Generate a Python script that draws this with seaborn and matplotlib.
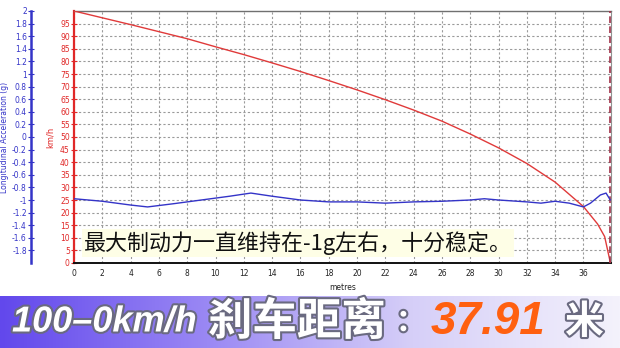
import numpy as np
import pandas as pd
import matplotlib
matplotlib.use("Agg")
import matplotlib.pyplot as plt
import matplotlib.patheffects as pe
from matplotlib.colors import LinearSegmentedColormap
import seaborn as sns

# ---------------- data ----------------
dist_speed = [0, 2, 4, 6, 8, 10, 12, 14, 16, 18, 20, 22, 24, 26, 28, 30, 32, 34, 36, 37, 37.5, 37.91]
speed_kmh = [100, 97.3, 94.6, 91.8, 89.0, 85.8, 82.7, 79.4, 76.0, 72.4, 68.7, 64.8, 60.7, 56.3, 51.2,
             45.7, 39.5, 32.1, 22.4, 15.5, 10.5, 0]
dist_acc = [0, 2, 4, 5.2, 7, 9, 11, 12.5, 14, 16, 18, 20, 22, 24, 26, 28, 29, 30, 32, 33, 34, 35,
            36, 36.5, 37.2, 37.6, 37.9]
accel_g = [-0.98, -1.02, -1.08, -1.11, -1.06, -1.00, -0.94, -0.89, -0.94, -1.00, -1.03, -1.03, -1.05,
           -1.03, -1.02, -1.00, -0.98, -1.00, -1.03, -1.05, -1.02, -1.05, -1.11, -1.05, -0.92, -0.89, -1.00]
xticks = list(range(0, 37, 2))
speed_ticks = list(range(0, 100, 5))
acc_ticks = [round(v, 1) for v in np.arange(2.0, -1.81, -0.2)]
stop_dist = 37.91
note = "最大制动力一直维持在-1g左右，十分稳定。"
title_a = "100–0km/h"
title_b = "刹车距离："
title_val = "37.91"
title_unit = "米"

sns.set_style("white")
plt.rcParams['font.family'] = ['DejaVu Sans', 'Noto Sans CJK SC']

W, H = 620, 348
fig = plt.figure(figsize=(W / 100, H / 100), dpi=100)
fig.patch.set_facecolor("white")

L, R, T, B = 74, 611, 11, 263
ax = fig.add_axes([L / W, 1 - B / H, (R - L) / W, (B - T) / H])
RED = "#e02828"
BLUE = "#3434c8"

df_s = pd.DataFrame({"d": dist_speed, "v": speed_kmh})
sns.lineplot(data=df_s, x="d", y="v", ax=ax, color="#e03a3a", lw=1.0, zorder=3)
ax.set_xlim(0, 37.95)
ax.set_ylim(0, 100)
ax.set_xticks(xticks)
ax.set_yticks(speed_ticks)
ax.set_xticklabels([str(t) for t in xticks], fontsize=5.5, color="#222222")
ax.set_yticklabels([str(t) for t in speed_ticks], fontsize=5.5, color=RED)
ax.tick_params(axis="y", colors=RED, direction="inout", length=4, width=0.8, pad=1)
ax.tick_params(axis="x", colors="#222222", direction="inout", length=4, width=0.8, pad=2)
for t in ax.get_yticklabels():
    t.set_color(RED)
ax.grid(True, color="#9a9a9a", linestyle=(0, (2, 2)), lw=0.8)
ax.spines["left"].set_color(RED)
ax.spines["left"].set_linewidth(1.6)
ax.spines["bottom"].set_color("#111111")
ax.spines["bottom"].set_linewidth(1.4)
ax.spines["top"].set_color("#707070")
ax.spines["top"].set_linewidth(1.0)
ax.spines["right"].set_color("#909090")
ax.spines["right"].set_linewidth(0.8)
ax.set_xlabel("metres", fontsize=5.5, color="#222222", labelpad=4)
ax.set_ylabel("km/h", fontsize=6, color=RED, labelpad=4)
ax.axvline(stop_dist, color="#a03048", ls=(0, (4, 2)), lw=1.2, zorder=4)

ax2 = ax.twinx()
df_a = pd.DataFrame({"d": dist_acc, "g": accel_g})
sns.lineplot(data=df_a, x="d", y="g", ax=ax2, color=BLUE, lw=1.0, zorder=3)
ax2.set_ylim(-2, 2)
ax2.set_xlim(0, 37.95)
ax2.yaxis.set_ticks_position("left")
ax2.yaxis.set_label_position("left")
ax2.spines["left"].set_position(("axes", -(L - 31) / (R - L)))
ax2.spines["left"].set_color(BLUE)
ax2.spines["left"].set_linewidth(1.8)
for s in ["right", "top", "bottom"]:
    ax2.spines[s].set_visible(False)
ax2.set_yticks(acc_ticks)
ax2.set_yticklabels([f"{v:g}" for v in acc_ticks], fontsize=5.5, color=BLUE)
ax2.tick_params(axis="y", colors=BLUE, direction="inout", length=4, width=0.8, pad=1)
for t in ax2.get_yticklabels():
    t.set_color(BLUE)
ax2.set_ylabel("Longitudinal Acceleration (g)", fontsize=5.5, color=BLUE, labelpad=2)
ax2.set_xlabel("")
ax2.grid(False)

# note text box
fig.text(84 / W, 1 - 243 / H, note, fontsize=15.8, color="#111111", va="center", ha="left",
         family=["Noto Sans CJK SC", "DejaVu Sans"],
         bbox=dict(boxstyle="square,pad=0.1", fc="#fefee6", ec="none"))

# banner
bax = fig.add_axes([0, 0, 1, 52 / H])
grad = np.linspace(0, 1, 256)[None, :]
cmap = LinearSegmentedColormap.from_list("b", ["#6248ec", "#9a88f4", "#d6cff8", "#f4f2fc"])
bax.imshow(grad, aspect="auto", cmap=cmap, extent=[0, 1, 0, 1])
bax.set_axis_off()

stroke = [pe.withStroke(linewidth=3, foreground="#6a6a80")]
ty = 1 - 322 / H
fig.text(12 / W, ty, title_a, fontsize=26, color="white", fontweight="bold", style="italic",
         family=["Liberation Sans", "DejaVu Sans"], va="center", ha="left", path_effects=stroke)
fig.text(208 / W, ty, title_b[:-1], fontsize=32, color="white", fontweight="bold",
         family=["Noto Sans CJK SC", "DejaVu Sans"], va="center", ha="left", path_effects=stroke)
fig.text(411 / W, ty, title_b[-1], fontsize=22, color="white", fontweight="bold",
         family=["Noto Sans CJK SC", "DejaVu Sans"], va="center", ha="center", path_effects=stroke)
fig.text(431 / W, ty, title_val, fontsize=33, color="#ff6010", fontweight="bold", style="italic",
         family=["Liberation Sans", "DejaVu Sans"], va="center", ha="left")
fig.text(565 / W, ty, title_unit, fontsize=28, color="white", fontweight="bold",
         family=["Noto Sans CJK SC", "DejaVu Sans"], va="center", ha="left", path_effects=stroke)

fig.savefig("out.png", dpi=100)
